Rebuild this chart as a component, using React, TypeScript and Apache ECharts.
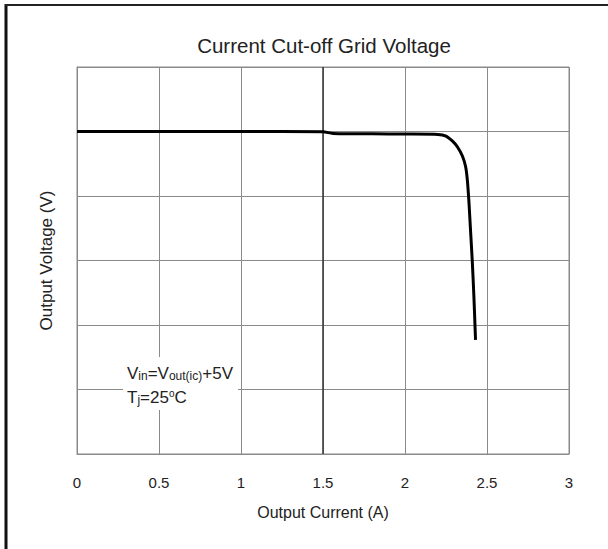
import React, { useEffect, useRef } from "react";
import * as echarts from "echarts";

const currentA = [0, 0.5, 1.0, 1.5, 1.56, 1.8, 2.0, 2.2, 2.25, 2.29, 2.32, 2.35, 2.37, 2.38, 2.39, 2.4, 2.41, 2.42, 2.43];
const voltageV = [5.0, 5.0, 5.0, 4.995, 4.97, 4.965, 4.96, 4.955, 4.93, 4.85, 4.76, 4.62, 4.45, 4.25, 3.9, 3.45, 3.0, 2.45, 1.77];
const xTicks = [0, 0.5, 1, 1.5, 2, 2.5, 3];

const FONT = "'Liberation Sans', Arial, sans-serif";

export default function App() {
  const ref = useRef<HTMLDivElement>(null);
  useEffect(() => {
    if (!ref.current) return;
    const chart = echarts.init(ref.current, undefined, { renderer: "svg" });
    const data = currentA.map((x, i) => [x, voltageV[i]]);
    chart.setOption({
      animation: false,
      backgroundColor: "#ffffff",
      textStyle: { fontFamily: FONT },
      title: {
        text: "Current Cut-off Grid Voltage",
        left: 324,
        textAlign: "center",
        top: 35,
        padding: 0,
        textStyle: { fontFamily: FONT, fontSize: 20.5, fontWeight: "normal", color: "#222" },
      },
      grid: {
        left: 77,
        right: 39,
        top: 67,
        bottom: 95,
        show: true,
        borderColor: "#8a8a8a",
        borderWidth: 1,
        backgroundColor: "transparent",
      },
      xAxis: {
        type: "value",
        min: 0,
        max: 3,
        interval: 0.5,
        name: "Output Current (A)",
        nameLocation: "middle",
        nameGap: 50,
        nameTextStyle: { fontFamily: FONT, fontSize: 16, color: "#222" },
        axisLine: { show: true, lineStyle: { color: "#8a8a8a" } },
        axisTick: { show: false },
        axisLabel: {
          margin: 21,
          fontFamily: FONT,
          fontSize: 15,
          color: "#222",
          formatter: (v: number) => (xTicks.includes(v) ? String(v) : ""),
        },
        splitLine: { show: true, lineStyle: { color: "#8a8a8a", width: 1 } },
      },
      yAxis: {
        type: "value",
        min: 0,
        max: 6,
        interval: 1,
        name: "Output Voltage (V)",
        nameLocation: "middle",
        nameGap: 22,
        nameTextStyle: { fontFamily: FONT, fontSize: 17, color: "#222" },
        axisLine: { show: true, lineStyle: { color: "#8a8a8a" } },
        axisTick: { show: false },
        axisLabel: { show: false },
        splitLine: { show: true, lineStyle: { color: "#8a8a8a", width: 1 } },
      },
      graphic: [
        { type: "line", shape: { x1: 6, y1: 4, x2: 6, y2: 549 }, style: { stroke: "#111", lineWidth: 3 } },
        { type: "line", shape: { x1: 5, y1: 5, x2: 608, y2: 5 }, style: { stroke: "#222", lineWidth: 2 } },
        {
          type: "rect",
          shape: { x: 123, y: 357, width: 115, height: 53 },
          style: { fill: "#ffffff" },
          z: 10,
        },
        {
          type: "text",
          x: 127,
          y: 373,
          z: 11,
          style: {
            text: "{b|V}{s|in}{b|=V}{s|out(ic)}{b|+5V}",
            verticalAlign: "middle",
            rich: {
              b: { fontFamily: FONT, fontSize: 17, fill: "#222", color: "#222" },
              s: { fontFamily: FONT, fontSize: 12, fill: "#222", color: "#222", verticalAlign: "bottom" },
            },
          },
        },
        {
          type: "text",
          x: 127,
          y: 397,
          z: 11,
          style: {
            text: "{b|T}{s|j}{b|=25}{u|o}{b|C}",
            verticalAlign: "middle",
            rich: {
              b: { fontFamily: FONT, fontSize: 17, fill: "#222", color: "#222" },
              s: { fontFamily: FONT, fontSize: 12, fill: "#222", color: "#222", verticalAlign: "bottom" },
              u: { fontFamily: FONT, fontSize: 10, fill: "#222", color: "#222", verticalAlign: "top" },
            },
          },
        },
      ],
      series: [
        {
          type: "line",
          data,
          smooth: 0.2,
          symbol: "none",
          lineStyle: { color: "#000", width: 3 },
          z: 5,
          markLine: {
            silent: true,
            symbol: "none",
            label: { show: false },
            lineStyle: { color: "#333", width: 1.5, type: "solid" },
            data: [{ xAxis: 1.5 }],
            z: 3,
          },
        },
      ],
    });
    return () => chart.dispose();
  }, []);
  return <div ref={ref} style={{ position: "fixed", left: 0, top: 0, width: 608, height: 549 }} />;
}
